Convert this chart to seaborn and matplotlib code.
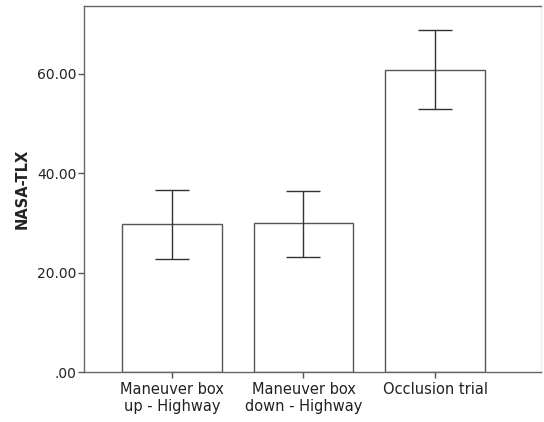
import matplotlib
matplotlib.use("Agg")
import matplotlib.pyplot as plt
import seaborn as sns
import pandas as pd
import numpy as np

categories = ["Maneuver box\nup - Highway", "Maneuver box\ndown - Highway", "Occlusion trial"]
means = [29.8, 29.9, 60.8]
ci_low = [22.7, 23.1, 52.8]
ci_high = [36.6, 36.4, 68.8]
yticks = [0, 20, 40, 60]
ytick_labels = [".00", "20.00", "40.00", "60.00"]

sns.set_theme(style="white")
plt.rcParams['font.family'] = ['DejaVu Sans']

df = pd.DataFrame({"cond": categories, "val": means})

fig = plt.figure(figsize=(5.44, 4.22), dpi=100)
ax = fig.add_axes([84/544, 50/422, (541-84)/544, (372-6)/422])

sns.barplot(data=df, x="cond", y="val", ax=ax, color="white", edgecolor="#555555",
            linewidth=1.0, width=0.76, errorbar=None)

x = np.arange(len(categories))
m = np.array(means)
ax.errorbar(x, m, yerr=[m - np.array(ci_low), np.array(ci_high) - m], fmt="none",
            ecolor="#333333", elinewidth=1.0, capsize=12, capthick=1.0)

ax.set_xlim(-0.669, 2.806)
ax.set_ylim(0, 73.6)
ax.set_yticks(yticks)
ax.set_yticklabels(ytick_labels)
ax.set_xlabel("")
ax.set_ylabel("NASA-TLX", fontsize=10.5, fontweight="bold", color="#222222", labelpad=5)

for s in ["left", "bottom", "top"]:
    ax.spines[s].set_color("#666666")
    ax.spines[s].set_linewidth(1.0)
ax.spines["right"].set_color("#eeeeee")
ax.spines["right"].set_linewidth(1.0)

ax.tick_params(axis="both", which="major", direction="out", length=4, width=1,
               color="#555555", labelsize=10, labelcolor="#222222", pad=1.5,
               left=True, bottom=True)
ax.tick_params(axis="x", pad=3, labelsize=10.5)
for lab in ax.get_xticklabels():
    lab.set_linespacing(1.15)

fig.savefig("out.png", dpi=100)
